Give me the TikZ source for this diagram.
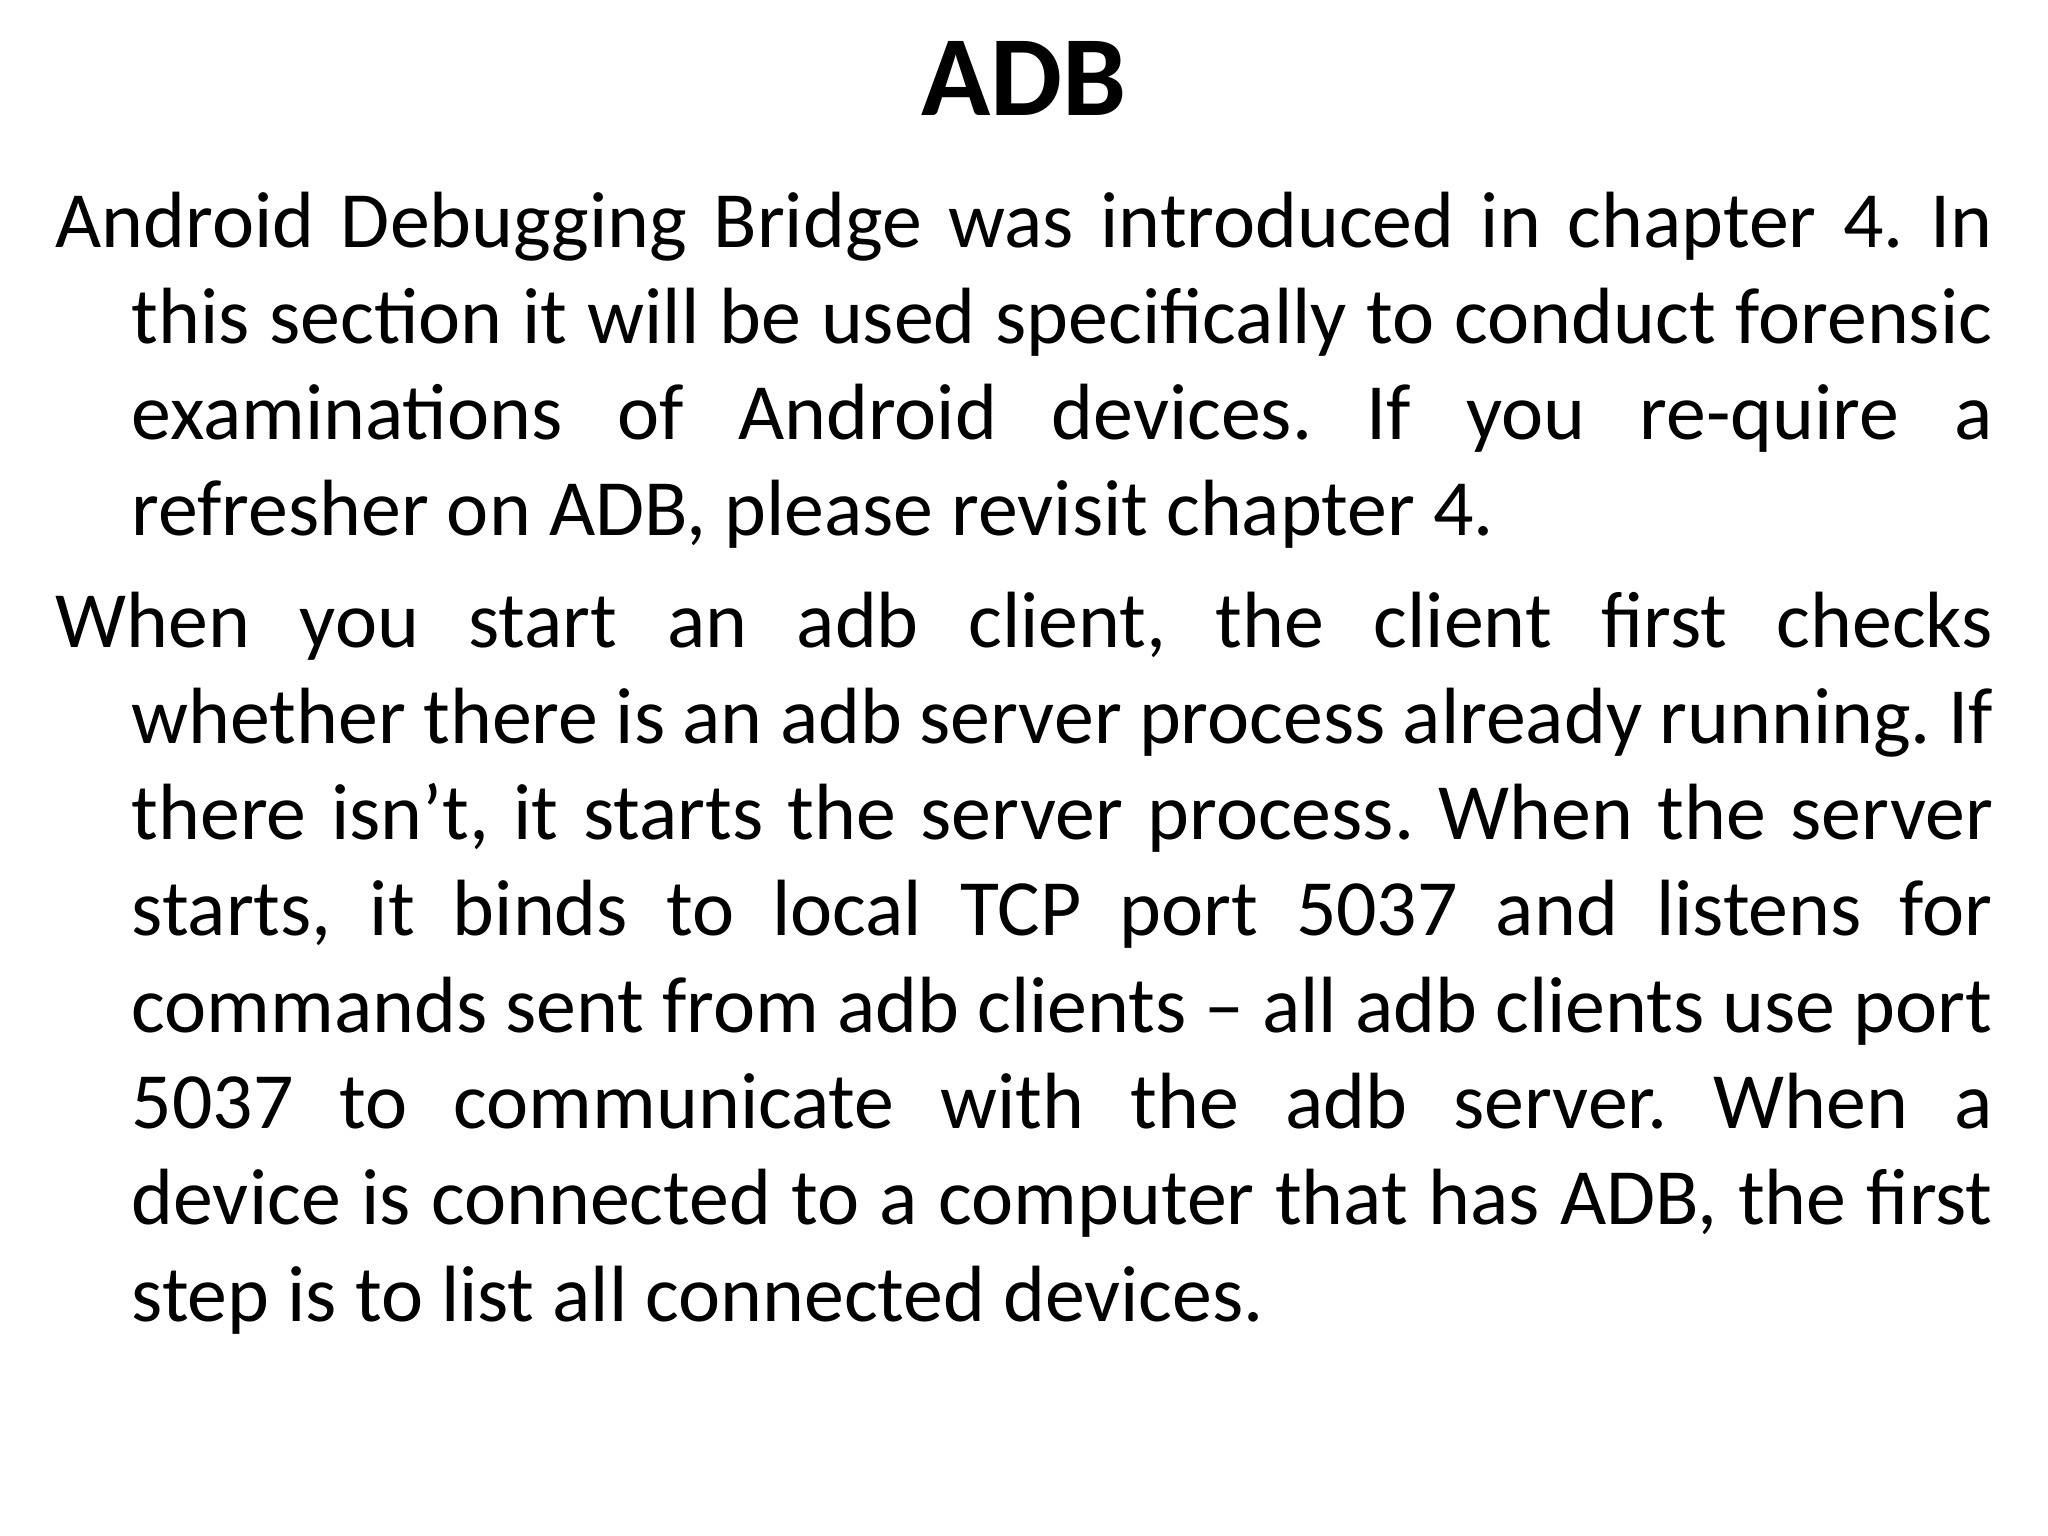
\documentclass[tikz,border=0pt]{standalone}
\usepackage{fontspec}
\setmainfont{Carlito}
\tikzset{bodytext/.style={anchor=north west,inner sep=0pt,text width=19.37cm,align=justify,font=\fontsize{22.7}{27.4}\selectfont}}
\newcommand{\hangpar}{\frenchspacing\hangindent=0.76cm\hangafter=1\parindent=0pt\hyphenpenalty=10000\exhyphenpenalty=10000\emergencystretch=2cm}
\begin{document}
\begin{tikzpicture}[x=1cm,y=1cm]
\useasboundingbox (0,0) rectangle (20.48,15.36);
\node[anchor=base,inner sep=0pt,font=\fontsize{32.5}{40}\selectfont\bfseries] (title) at (10.24,14.2) {ADB};
\node[bodytext] (p1) at (0.55,13.45) {\hangpar Android Debugging Bridge was introduced in chapter 4. In\linebreak this section it will be used specifically to conduct forensic\linebreak examinations of Android devices. If you re-quire a\linebreak refresher on ADB, please revisit chapter 4.\par};
\node[bodytext] (p2) at (0.55,9.45) {\hangpar When you start an adb client, the client first checks\linebreak whether there is an adb server process already running. If\linebreak there isn’t, it starts the server process. When the server\linebreak starts, it binds to local TCP port 5037 and listens for\linebreak commands sent from adb clients – all adb clients use port\linebreak 5037 to communicate with the adb server. When a\linebreak device is connected to a computer that has ADB, the first\linebreak step is to list all connected devices.\par};
\end{tikzpicture}
\end{document}
